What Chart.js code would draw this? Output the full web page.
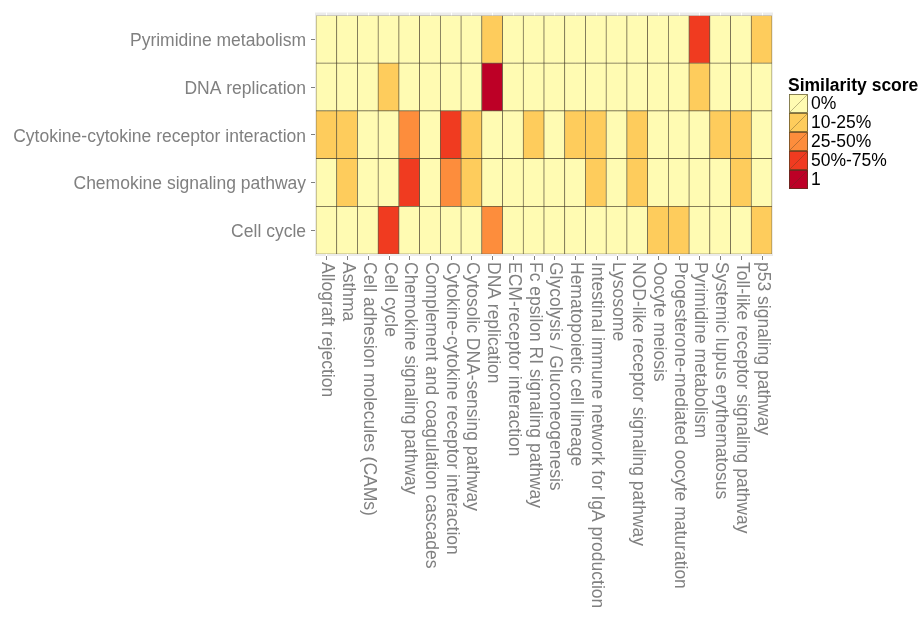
<!DOCTYPE html>
<html>
<head>
<meta charset="utf-8">
<script src="https://cdn.jsdelivr.net/npm/chart.js@4"></script>
<style>
  html, body { margin: 0; padding: 0; background: #fff; }
  #wrap { width: 922px; height: 618px; }
</style>
</head>
<body>
<div id="wrap"><canvas id="heat" width="922" height="618"></canvas></div>
<script>
// pathways on the x axis
const pathways = [
  'Allograft rejection', 'Asthma', 'Cell adhesion molecules (CAMs)', 'Cell cycle',
  'Chemokine signaling pathway', 'Complement and coagulation cascades',
  'Cytokine-cytokine receptor interaction', 'Cytosolic DNA-sensing pathway',
  'DNA replication', 'ECM-receptor interaction', 'Fc epsilon RI signaling pathway',
  'Glycolysis / Gluconeogenesis', 'Hematopoietic cell lineage',
  'Intestinal immune network for IgA production', 'Lysosome',
  'NOD-like receptor signaling pathway', 'Oocyte meiosis',
  'Progesterone-mediated oocyte maturation', 'Pyrimidine metabolism',
  'Systemic lupus erythematosus', 'Toll-like receptor signaling pathway',
  'p53 signaling pathway'
];

// rows, top to bottom as in the picture
const rowNames = [
  'Pyrimidine metabolism', 'DNA replication', 'Cytokine-cytokine receptor interaction',
  'Chemokine signaling pathway', 'Cell cycle'
];

// similarity class per cell (index into scoreLabels)
const pyrimidineRow = [0,0,0,0,0,0,0,0,1,0,0,0,0,0,0,0,0,0,3,0,0,1];
const dnaRow        = [0,0,0,1,0,0,0,0,4,0,0,0,0,0,0,0,0,0,1,0,0,0];
const cytokineRow   = [1,1,0,0,2,0,3,1,0,0,1,0,1,1,0,1,0,0,0,1,1,0];
const chemokineRow  = [0,1,0,0,3,0,2,1,0,0,0,0,0,1,0,1,0,0,0,0,1,0];
const cellCycleRow  = [0,0,0,3,0,0,0,0,2,0,0,0,0,0,0,0,1,1,0,0,0,1];
const scoreRows = [pyrimidineRow, dnaRow, cytokineRow, chemokineRow, cellCycleRow];

const scoreLabels = ['0%', '10-25%', '25-50%', '50%-75%', '1'];
const scoreColors = ['#FFFBB2', '#FECC5C', '#FD8D3C', '#F03B20', '#BD0026'];

const greyText = '#808080';
const fontFam = '"Liberation Sans", Arial, sans-serif';
const fontSize = 17.5;

// one stacked dataset per row, bottom row first
const datasets = scoreRows.slice().reverse().map((row, i) => ({
  label: rowNames[rowNames.length - 1 - i],
  data: row.map(() => 1),
  backgroundColor: row.map(s => scoreColors[s]),
  borderColor: 'rgba(70,60,30,0.75)',
  borderWidth: 0.7,
  borderSkipped: false,
  barPercentage: 1,
  categoryPercentage: 1
}));

// grey ggplot panel behind the tiles, rotated x labels and the legend
const panelPlugin = {
  id: 'panel',
  beforeDatasetsDraw(chart) {
    const { ctx, chartArea: a, scales } = chart;
    ctx.save();
    ctx.fillStyle = '#EBEBEB';
    ctx.fillRect(a.left - 1, a.top - 3, a.right - a.left + 2, a.bottom - a.top + 5);
    ctx.strokeStyle = '#ffffff';
    ctx.lineWidth = 1;
    pathways.forEach((p, i) => {
      const x = Math.round(scales.x.getPixelForValue(i)) + 0.5;
      ctx.beginPath();
      ctx.moveTo(x, a.top - 3);
      ctx.lineTo(x, a.bottom + 2);
      ctx.stroke();
    });
    ctx.restore();
  },
  afterDraw(chart) {
    const { ctx, chartArea: a, scales } = chart;
    ctx.save();
    ctx.strokeStyle = greyText;
    ctx.lineWidth = 1;
    ctx.fillStyle = greyText;
    ctx.font = fontSize + 'px ' + fontFam;
    ctx.textAlign = 'left';
    ctx.textBaseline = 'middle';
    pathways.forEach((p, i) => {
      const x = Math.round(scales.x.getPixelForValue(i)) + 0.5;
      ctx.beginPath();
      ctx.moveTo(x, a.bottom + 2);
      ctx.lineTo(x, a.bottom + 6);
      ctx.stroke();
      ctx.save();
      ctx.translate(x, a.bottom + 8);
      ctx.rotate(Math.PI / 2);
      ctx.fillText(p, 0, 0);
      ctx.restore();
    });

    // legend
    const lx = 789, ly = 94, box = 19;
    ctx.fillStyle = '#000';
    ctx.font = 'bold ' + fontSize + 'px ' + fontFam;
    ctx.textBaseline = 'alphabetic';
    ctx.fillText('Similarity score', 788, 91);
    ctx.font = fontSize + 'px ' + fontFam;
    scoreLabels.forEach((lab, i) => {
      const y = ly + i * box;
      ctx.fillStyle = scoreColors[i];
      ctx.fillRect(lx, y, box, box);
      ctx.strokeStyle = 'rgba(70,60,30,0.8)';
      ctx.lineWidth = 0.8;
      ctx.strokeRect(lx + 0.5, y + 0.5, box - 1, box - 1);
      ctx.beginPath();
      ctx.moveTo(lx + 1, y + box - 1);
      ctx.lineTo(lx + box - 1, y + 1);
      ctx.strokeStyle = 'rgba(70,60,30,0.45)';
      ctx.stroke();
      ctx.fillStyle = '#000';
      ctx.textBaseline = 'middle';
      ctx.fillText(lab, lx + box + 3, y + box / 2 + 1);
    });
    ctx.restore();
  }
};

new Chart(document.getElementById('heat').getContext('2d'), {
  type: 'bar',
  data: { labels: pathways, datasets: datasets },
  options: {
    responsive: false,
    animation: false,
    layout: { padding: { top: 14, right: 150, left: 0, bottom: 0 } },
    plugins: { legend: { display: false }, tooltip: { enabled: false } },
    scales: {
      x: {
        stacked: true,
        grid: { display: false },
        border: { display: false },
        ticks: { display: false },
        afterFit(scale) { scale.height = 618 - 254; }
      },
      y: {
        stacked: true,
        min: 0,
        max: 5,
        border: { display: false },
        grid: { drawOnChartArea: false, drawTicks: true, tickLength: 5, color: greyText },
        afterBuildTicks(scale) {
          scale.ticks = [0.5, 1.5, 2.5, 3.5, 4.5].map(v => ({ value: v }));
        },
        ticks: {
          color: greyText,
          padding: 5,
          labelOffset: 2,
          font: { family: fontFam, size: fontSize },
          callback: v => rowNames[rowNames.length - 1 - Math.floor(v)]
        },
        afterFit(scale) { scale.width = 316; }
      }
    }
  },
  plugins: [panelPlugin]
});
</script>
</body>
</html>
